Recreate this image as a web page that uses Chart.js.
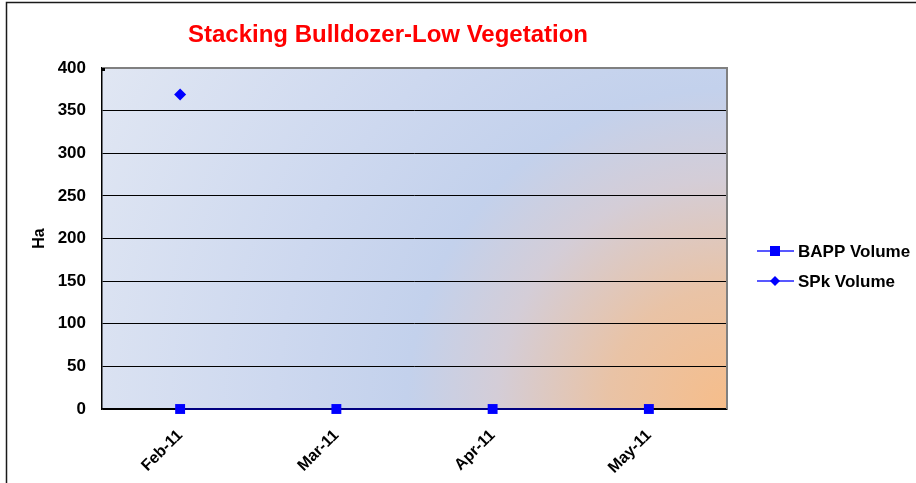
<!DOCTYPE html>
<html>
<head>
<meta charset="utf-8">
<script src="https://cdn.jsdelivr.net/npm/chart.js@4"></script>
<style>
  html, body { margin: 0; padding: 0; background: #fff; }
  #wrap { width: 916px; height: 483px; }
</style>
</head>
<body>
<div id="wrap"><canvas id="grafico" width="916" height="483"></canvas></div>
<script>
const titulo = 'Stacking Bulldozer-Low Vegetation';
const meses = ['Feb-11', 'Mar-11', 'Apr-11', 'May-11'];
const bappVolume = [0, 0, 0, 0];
const spkVolume = [369, null, null, null];
const yTicks = [0, 50, 100, 150, 200, 250, 300, 350, 400];

const fonte = "'Liberation Sans', Arial, sans-serif";

// fundo do quadro e moldura externa
const fundo = {
    id: 'fundo',
    beforeDraw(chart) {
        const ctx = chart.ctx;
        const a = chart.chartArea;
        ctx.save();
        ctx.fillStyle = '#ffffff';
        ctx.fillRect(0, 0, chart.width, chart.height);
        ctx.strokeStyle = '#1a1a1a';
        ctx.lineWidth = 1.5;
        ctx.strokeRect(6.5, 2.5, 1200, 1200);

        // gradiente radial a partir do canto inferior direito
        const g = ctx.createRadialGradient(a.right, a.bottom, 0, a.right, a.bottom, 720);
        g.addColorStop(0, '#f6bd8a');
        g.addColorStop(120 / 720, '#e9c3a6');
        g.addColorStop(230 / 720, '#d4cdd7');
        g.addColorStop(320 / 720, '#c3d1ec');
        g.addColorStop(450 / 720, '#cdd8ef');
        g.addColorStop(1, '#e1e7f3');
        ctx.fillStyle = g;
        ctx.fillRect(a.left, a.top, a.right - a.left, a.bottom - a.top);
        ctx.restore();
    },
    beforeDatasetsDraw(chart) {
        const ctx = chart.ctx;
        const a = chart.chartArea;
        ctx.save();
        ctx.strokeStyle = '#808080';
        ctx.lineWidth = 2;
        ctx.beginPath();
        ctx.moveTo(a.left, a.top);
        ctx.lineTo(a.right, a.top);
        ctx.lineTo(a.right, a.bottom);
        ctx.stroke();
        ctx.fillStyle = '#000';
        ctx.fillRect(a.left, a.top, 3, 3);
        ctx.restore();
    }
};

// titulo e legenda desenhados a mao
const extras = {
    id: 'extras',
    afterDraw(chart) {
        const ctx = chart.ctx;
        ctx.save();
        ctx.fillStyle = '#ff0000';
        ctx.font = 'bold 24px ' + fonte;
        ctx.textAlign = 'center';
        ctx.textBaseline = 'middle';
        ctx.fillText(titulo, 388, 35);

        const itens = chart.data.datasets;
        const ys = [251, 281];
        itens.forEach((ds, i) => {
            const y = ys[i];
            ctx.strokeStyle = '#2020ff';
            ctx.lineWidth = 1.5;
            ctx.beginPath();
            ctx.moveTo(757, y);
            ctx.lineTo(794, y);
            ctx.stroke();
            ctx.fillStyle = '#0000ff';
            if (ds.pointStyle === 'rect') {
                ctx.fillRect(770, y - 5, 10, 10);
            } else {
                ctx.beginPath();
                ctx.moveTo(775, y - 5);
                ctx.lineTo(780, y);
                ctx.lineTo(775, y + 5);
                ctx.lineTo(770, y);
                ctx.closePath();
                ctx.fill();
            }
            ctx.fillStyle = '#000';
            ctx.font = 'bold 17px ' + fonte;
            ctx.textAlign = 'left';
            ctx.fillText(ds.label, 798, y + 1);
        });
        ctx.restore();
    }
};

const ctx = document.getElementById('grafico').getContext('2d');
const chart = new Chart(ctx, {
    type: 'line',
    data: {
        labels: meses,
        datasets: [
            {
                label: 'BAPP Volume',
                data: bappVolume,
                clip: false,
                borderColor: '#000080',
                borderWidth: 2,
                backgroundColor: '#0000ff',
                pointStyle: 'rect',
                pointRadius: 7,
                pointBorderWidth: 0,
                pointBackgroundColor: '#0000ff'
            },
            {
                label: 'SPk Volume',
                data: spkVolume,
                clip: false,
                borderColor: '#0000ff',
                borderWidth: 2,
                backgroundColor: '#0000ff',
                pointStyle: 'rectRot',
                pointRadius: 6,
                pointBorderWidth: 0,
                pointBackgroundColor: '#0000ff'
            }
        ]
    },
    options: {
        responsive: false,
        animation: false,
        layout: {
            padding: { top: 68, right: 189, left: 0, bottom: 0 }
        },
        scales: {
            x: {
                type: 'category',
                offset: true,
                grid: { display: false },
                border: { color: '#000', width: 1.5 },
                ticks: {
                    color: '#000',
                    font: { family: fonte, size: 16, weight: 'bold' },
                    maxRotation: 45,
                    minRotation: 45,
                    padding: 9
                },
                afterFit(scale) { scale.height = 74; }
            },
            y: {
                min: 0,
                max: 400,
                afterBuildTicks(scale) {
                    scale.ticks = yTicks.map(v => ({ value: v }));
                },
                grid: { color: '#000', lineWidth: 1, drawTicks: false },
                border: { color: '#000', width: 1.5 },
                ticks: {
                    color: '#000',
                    font: { family: fonte, size: 17, weight: 'bold' },
                    padding: 16
                },
                title: {
                    display: true,
                    text: 'Ha',
                    color: '#000',
                    font: { family: fonte, size: 16, weight: 'bold' },
                    padding: { top: 30, bottom: 0 }
                },
                afterFit(scale) { scale.width = 102; }
            }
        },
        plugins: {
            legend: { display: false },
            title: { display: false },
            tooltip: { enabled: false }
        }
    },
    plugins: [fundo, extras]
});
</script>
</body>
</html>
